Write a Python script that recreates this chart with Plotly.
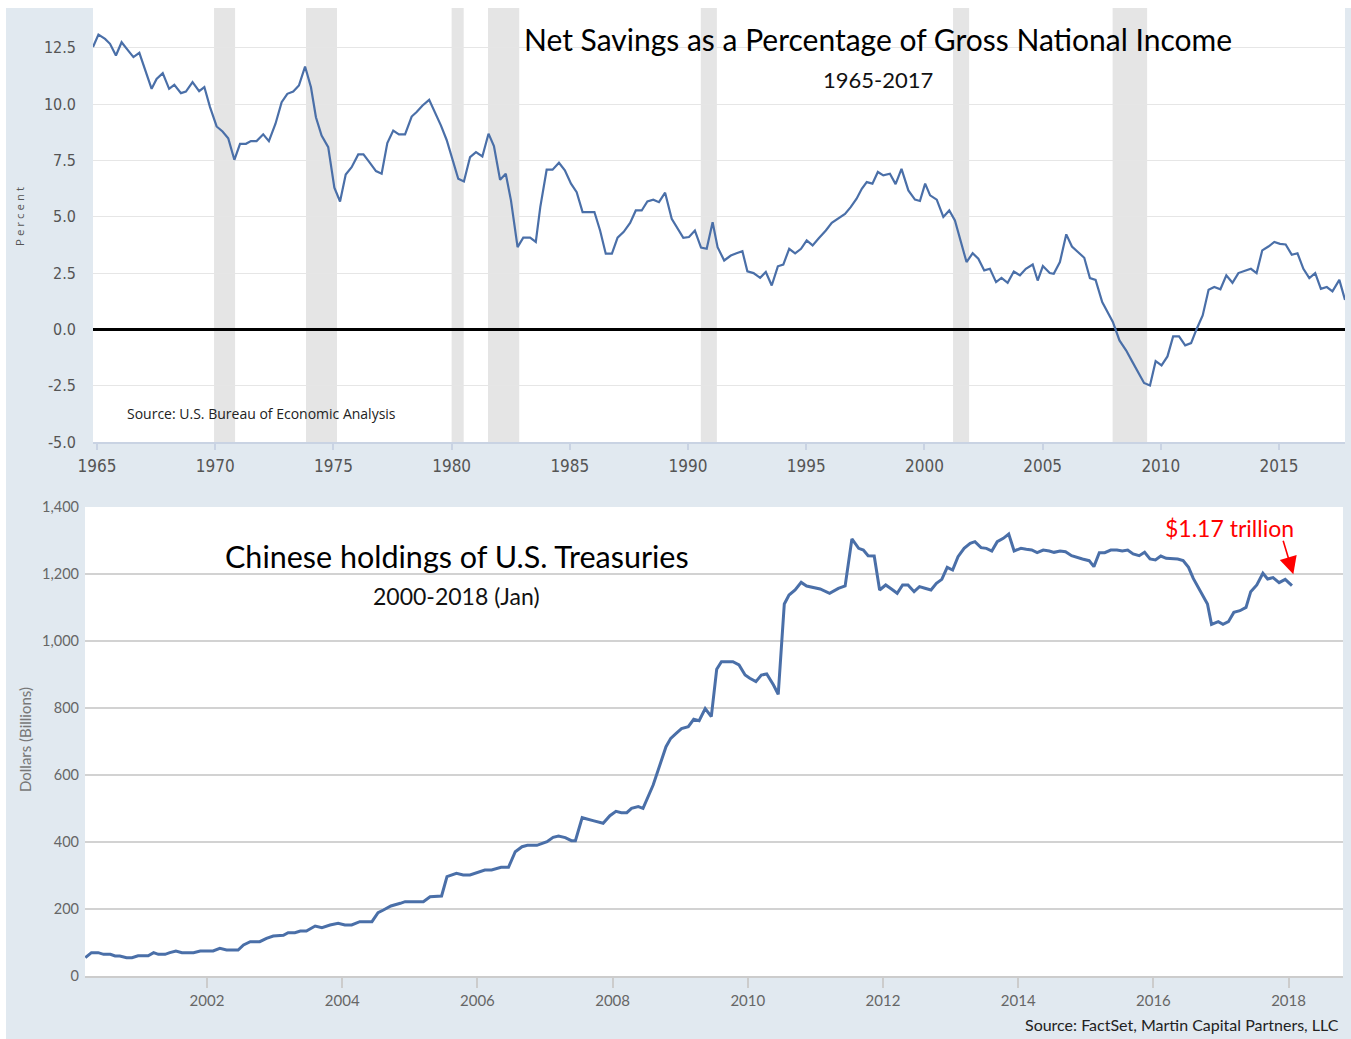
import plotly.graph_objects as go

# ---------------- data: Net savings as % of GNI (quarterly) ----------------
top_years = [1964.83, 1965.06, 1965.34, 1965.55, 1965.80, 1966.04, 1966.32, 1966.54, 1966.79, 1967.03,
             1967.31, 1967.52, 1967.78, 1968.05, 1968.27, 1968.55, 1968.76, 1969.04, 1969.32, 1969.54,
             1969.78, 1970.06, 1970.31, 1970.55, 1970.81, 1971.05, 1971.30, 1971.51, 1971.75, 1972.03,
             1972.27, 1972.55, 1972.81, 1973.05, 1973.30, 1973.54, 1973.80, 1974.05, 1974.26, 1974.50,
             1974.78, 1975.04, 1975.28, 1975.52, 1975.77, 1976.05, 1976.27, 1976.52, 1976.80, 1977.04,
             1977.28, 1977.53, 1977.77, 1978.03, 1978.31, 1978.52, 1978.77, 1979.05, 1979.29, 1979.55,
             1979.79, 1980.05, 1980.28, 1980.52, 1980.78, 1981.03, 1981.30, 1981.56, 1981.79, 1982.05,
             1982.29, 1982.51, 1982.79, 1983.03, 1983.32, 1983.56, 1983.75, 1984.02, 1984.27, 1984.54,
             1984.79, 1985.05, 1985.29, 1985.54, 1985.79, 1986.04, 1986.28, 1986.52, 1986.78, 1987.02,
             1987.28, 1987.55, 1987.79, 1988.04, 1988.28, 1988.53, 1988.77, 1989.03, 1989.31, 1989.55,
             1989.80, 1990.04, 1990.29, 1990.55, 1990.79, 1991.04, 1991.25, 1991.53, 1991.81, 1992.05,
             1992.30, 1992.51, 1992.77, 1993.05, 1993.29, 1993.54, 1993.80, 1994.03, 1994.28, 1994.53,
             1994.78, 1995.02, 1995.27, 1995.53, 1995.83, 1996.08, 1996.39, 1996.64, 1996.88, 1997.13,
             1997.35, 1997.56, 1997.80, 1998.03, 1998.26, 1998.54, 1998.78, 1999.03, 1999.32, 1999.60,
             1999.81, 2000.03, 2000.24, 2000.52, 2000.80, 2001.05, 2001.29, 2001.78, 2002.04, 2002.28,
             2002.53, 2002.77, 2003.03, 2003.26, 2003.52, 2003.78, 2004.04, 2004.29, 2004.58, 2004.79,
             2005.01, 2005.30, 2005.47, 2005.73, 2006.00, 2006.24, 2006.55, 2006.76, 2007.00, 2007.24,
             2007.52, 2007.75, 2007.97, 2008.25, 2008.53, 2008.78, 2009.04, 2009.29, 2009.54, 2009.78,
             2010.03, 2010.28, 2010.52, 2010.77, 2011.03, 2011.28, 2011.52, 2011.77, 2012.02, 2012.26,
             2012.52, 2012.77, 2013.03, 2013.28, 2013.53, 2013.81, 2014.05, 2014.29, 2014.55, 2014.80,
             2015.04, 2015.28, 2015.54, 2015.78, 2016.03, 2016.28, 2016.53, 2016.77, 2017.02, 2017.26,
             2017.55, 2017.79]
top_values = [12.54, 13.09, 12.90, 12.68, 12.16, 12.75, 12.38, 12.09, 12.28, 11.57,
              10.68, 11.12, 11.38, 10.68, 10.86, 10.49, 10.56, 10.98, 10.58, 10.76,
              9.87, 9.01, 8.79, 8.49, 7.53, 8.24, 8.24, 8.36, 8.36, 8.66,
              8.36, 9.13, 10.09, 10.46, 10.56, 10.83, 11.67, 10.75, 9.42, 8.61,
              8.09, 6.29, 5.68, 6.88, 7.20, 7.77, 7.77, 7.43, 7.03, 6.91,
              8.27, 8.83, 8.66, 8.66, 9.45, 9.65, 9.94, 10.19, 9.65, 9.05,
              8.41, 7.50, 6.69, 6.57, 7.65, 7.87, 7.68, 8.69, 8.14, 6.64,
              6.91, 5.73, 3.65, 4.07, 4.07, 3.88, 5.43, 7.09, 7.09, 7.40,
              7.06, 6.47, 6.09, 5.21, 5.21, 5.21, 4.39, 3.36, 3.36, 4.07,
              4.33, 4.73, 5.28, 5.28, 5.68, 5.76, 5.65, 6.07, 4.91, 4.50,
              4.07, 4.10, 4.39, 3.63, 3.58, 4.76, 3.65, 3.06, 3.28, 3.38,
              3.47, 2.58, 2.50, 2.29, 2.55, 1.95, 2.80, 2.88, 3.58, 3.38,
              3.58, 3.95, 3.73, 4.05, 4.39, 4.73, 4.95, 5.13, 5.43, 5.80,
              6.24, 6.54, 6.47, 6.99, 6.84, 6.91, 6.45, 7.13, 6.17, 5.76,
              5.70, 6.47, 5.95, 5.76, 4.99, 5.28, 4.84, 2.99, 3.38, 3.14,
              2.62, 2.69, 2.10, 2.29, 2.07, 2.57, 2.40, 2.69, 2.88, 2.17,
              2.81, 2.50, 2.47, 2.99, 4.22, 3.68, 3.38, 3.18, 2.28, 2.20,
              1.21, 0.78, 0.33, -0.49, -0.93, -1.41, -1.90, -2.38, -2.49, -1.41,
              -1.60, -1.20, -0.31, -0.31, -0.71, -0.61, 0.03, 0.62, 1.76, 1.88,
              1.78, 2.40, 2.07, 2.50, 2.59, 2.69, 2.50, 3.51, 3.68, 3.88,
              3.80, 3.77, 3.31, 3.38, 2.69, 2.28, 2.50, 1.80, 1.88, 1.69,
              2.20, 1.31]

# US recessions (decimal years)
rec_start = [1969.95, 1973.84, 1980.00, 1981.54, 1990.54, 2001.21, 2007.96]
rec_end = [1970.84, 1975.15, 1980.51, 1982.86, 1991.22, 2001.89, 2009.42]

top_xticks = [1965, 1970, 1975, 1980, 1985, 1990, 1995, 2000, 2005, 2010, 2015]
top_yticks = [-5.0, -2.5, 0.0, 2.5, 5.0, 7.5, 10.0, 12.5]
top_yticklabels = ['-5.0', '-2.5', '0.0', '2.5', '5.0', '7.5', '10.0', '12.5']

# ---------------- data: Chinese holdings of US Treasuries ($bn, monthly) ----------------
bot_years = [2000.20, 2000.29, 2000.39, 2000.47, 2000.57, 2000.64, 2000.71, 2000.81, 2000.89, 2000.98,
             2001.13, 2001.21, 2001.28, 2001.38, 2001.45, 2001.54, 2001.63, 2001.80, 2001.90, 2002.09,
             2002.19, 2002.29, 2002.46, 2002.54, 2002.64, 2002.78, 2002.88, 2002.98, 2003.13, 2003.20,
             2003.30, 2003.38, 2003.47, 2003.60, 2003.70, 2003.82, 2003.94, 2004.04, 2004.14, 2004.26,
             2004.44, 2004.53, 2004.61, 2004.72, 2004.86, 2004.93, 2005.20, 2005.30, 2005.47, 2005.55,
             2005.69, 2005.79, 2005.89, 2005.99, 2006.11, 2006.21, 2006.35, 2006.46, 2006.56, 2006.66,
             2006.74, 2006.88, 2007.03, 2007.12, 2007.20, 2007.30, 2007.39, 2007.45, 2007.55, 2007.71,
             2007.86, 2007.96, 2008.05, 2008.13, 2008.21, 2008.28, 2008.38, 2008.45, 2008.53, 2008.60,
             2008.79, 2008.86, 2008.94, 2009.02, 2009.12, 2009.20, 2009.28, 2009.37, 2009.46, 2009.54,
             2009.61, 2009.78, 2009.87, 2009.96, 2010.03, 2010.12, 2010.20, 2010.28, 2010.38, 2010.45,
             2010.54, 2010.61, 2010.70, 2010.79, 2010.87, 2011.07, 2011.21, 2011.34, 2011.44, 2011.54,
             2011.64, 2011.71, 2011.78, 2011.87, 2011.95, 2012.04, 2012.13, 2012.21, 2012.29, 2012.37,
             2012.46, 2012.54, 2012.62, 2012.71, 2012.79, 2012.87, 2012.95, 2013.03, 2013.11, 2013.20,
             2013.29, 2013.36, 2013.45, 2013.53, 2013.61, 2013.69, 2013.78, 2013.86, 2013.94, 2014.04,
             2014.12, 2014.20, 2014.28, 2014.37, 2014.46, 2014.53, 2014.62, 2014.70, 2014.79, 2014.87,
             2014.95, 2015.05, 2015.12, 2015.20, 2015.28, 2015.37, 2015.46, 2015.54, 2015.62, 2015.70,
             2015.79, 2015.87, 2015.95, 2016.03, 2016.11, 2016.19, 2016.28, 2016.36, 2016.44, 2016.52,
             2016.59, 2016.66, 2016.74, 2016.80, 2016.86, 2016.96, 2017.03, 2017.11, 2017.19, 2017.28,
             2017.37, 2017.44, 2017.53, 2017.62, 2017.69, 2017.77, 2017.86, 2017.95, 2018.05]
bot_values = [54.7, 69.7, 69.7, 64.7, 64.7, 59.7, 59.7, 54.7, 54.7, 60.6,
              60.6, 69.7, 64.7, 64.7, 69.7, 74.6, 69.7, 69.7, 74.6, 74.6,
              82.6, 77.6, 77.6, 92.5, 102.4, 102.4, 112.4, 119.4, 121.4, 129.4,
              129.4, 134.3, 134.3, 149.3, 144.3, 152.2, 157.2, 152.2, 152.2, 162.1,
              162.1, 189.0, 197.0, 209.0, 217.0, 222.0, 222.0, 236.7, 238.8, 296.4,
              306.5, 301.5, 301.5, 308.5, 316.4, 316.4, 324.4, 324.4, 371.1, 386.0,
              390.0, 390.0, 401.0, 414.0, 418.0, 413.0, 404.0, 404.0, 472.6, 463.7,
              455.8, 478.5, 491.5, 487.5, 487.5, 500.5, 505.5, 500.5, 537.3, 570.0,
              684.6, 709.5, 724.4, 738.3, 744.3, 766.2, 762.2, 798.0, 774.1, 915.5,
              938.3, 938.3, 928.4, 898.5, 888.6, 878.6, 898.5, 901.5, 868.7, 840.9,
              1110.4, 1137.3, 1152.2, 1175.0, 1164.2, 1155.2, 1142.3, 1157.2, 1164.2, 1304.5,
              1276.6, 1271.6, 1254.7, 1253.7, 1152.2, 1167.2, 1154.2, 1142.3, 1167.2, 1167.2,
              1147.3, 1162.2, 1157.3, 1152.2, 1172.1, 1184.0, 1219.8, 1211.9, 1251.6, 1276.6,
              1291.6, 1296.5, 1278.6, 1276.6, 1268.7, 1296.5, 1306.5, 1319.4, 1268.7, 1276.6,
              1273.6, 1271.6, 1263.7, 1271.6, 1268.7, 1264.7, 1268.7, 1266.7, 1254.7, 1248.8,
              1244.8, 1239.8, 1221.9, 1263.7, 1263.7, 1271.6, 1271.6, 1268.7, 1271.6, 1259.7,
              1254.7, 1264.7, 1244.8, 1241.8, 1253.7, 1246.8, 1244.8, 1244.8, 1239.8, 1219.8,
              1186.9, 1162.2, 1134.3, 1110.4, 1049.7, 1057.6, 1049.7, 1057.6, 1085.4, 1090.4,
              1100.4, 1147.3, 1167.2, 1202.1, 1185.1, 1189.1, 1174.1, 1184.0, 1165.2]

bot_xticks = [2002, 2004, 2006, 2008, 2010, 2012, 2014, 2016, 2018]
bot_yticks = [0, 200, 400, 600, 800, 1000, 1200, 1400]

# ---------------- figure ----------------
W, H = 1351, 1039


def fx(p):
    return p / W


def fy(p):
    return 1 - p / H


BG = '#E1E9F0'
LINE = '#4A6FA8'
TITLE_FONT = 'Lato'
NARROW = 'DejaVu Sans Condensed, Liberation Sans Narrow, Arial Narrow, sans-serif'

fig = go.Figure()
fig.add_trace(go.Scatter(x=top_years, y=top_values, mode='lines',
                         line=dict(color=LINE, width=2.2), xaxis='x', yaxis='y',
                         hoverinfo='skip', showlegend=False))
fig.add_trace(go.Scatter(x=bot_years, y=bot_values, mode='lines',
                         line=dict(color=LINE, width=3), xaxis='x2', yaxis='y2',
                         hoverinfo='skip', showlegend=False))

shapes = [
    dict(type='rect', xref='paper', yref='paper', x0=0, x1=1, y0=fy(8), y1=1,
         fillcolor='white', line=dict(width=0), layer='below'),
    dict(type='rect', xref='paper', yref='paper', x0=0, x1=fx(6), y0=0, y1=1,
         fillcolor='white', line=dict(width=0), layer='below'),
]
for s, e in zip(rec_start, rec_end):
    shapes.append(dict(type='rect', xref='x', yref='y domain', x0=s, x1=e, y0=0, y1=1,
                       fillcolor='#E5E5E5', line=dict(width=0), layer='below'))

annotations = [
    dict(text='Net Savings as a Percentage of Gross National Income', xref='paper', yref='paper',
         x=fx(878), y=fy(39), xanchor='center', yanchor='middle', showarrow=False,
         font=dict(family=TITLE_FONT, size=30, color='black')),
    dict(text='1965-2017', xref='paper', yref='paper',
         x=fx(878), y=fy(79), xanchor='center', yanchor='middle', showarrow=False,
         font=dict(family=TITLE_FONT, size=22, color='#111')),
    dict(text='Source: U.S. Bureau of Economic Analysis', xref='paper', yref='paper',
         x=fx(125), y=fy(413), xanchor='left', yanchor='middle', showarrow=False,
         font=dict(family='Open Sans', size=14, color='#222')),
    dict(text='P e r c e n t', xref='paper', yref='paper', textangle=-90,
         x=fx(19), y=fy(217), xanchor='center', yanchor='middle', showarrow=False,
         font=dict(family='Open Sans', size=11.5, color='#555')),
    dict(text='Chinese holdings of U.S. Treasuries', xref='paper', yref='paper',
         x=fx(457), y=fy(556), xanchor='center', yanchor='middle', showarrow=False,
         font=dict(family=TITLE_FONT, size=30.5, color='black')),
    dict(text='2000-2018 (Jan)', xref='paper', yref='paper',
         x=fx(457), y=fy(596), xanchor='center', yanchor='middle', showarrow=False,
         font=dict(family=TITLE_FONT, size=23, color='#111')),
    dict(text='Dollars (Billions)', xref='paper', yref='paper', textangle=-90,
         x=fx(25), y=fy(740), xanchor='center', yanchor='middle', showarrow=False,
         font=dict(family=TITLE_FONT, size=15, color='#777')),
    dict(text='Source: FactSet, Martin Capital Partners, LLC', xref='paper', yref='paper',
         x=fx(1341), y=fy(1024), xanchor='right', yanchor='middle', showarrow=False,
         font=dict(family=TITLE_FONT, size=16, color='#222')),
    dict(text='$1.17 trillion', xref='x2', yref='y2', x=2017.13, y=1337,
         xanchor='center', yanchor='middle', showarrow=False,
         font=dict(family=TITLE_FONT, size=23, color='#FF0000')),
    dict(text='', xref='x2', yref='y2', x=2018.07, y=1199, ax=-10.6, ay=-35,
         showarrow=True, arrowhead=2, arrowsize=2.2, arrowwidth=1.6, arrowcolor='#FF0000'),
]

fig.update_layout(
    width=W, height=H, autosize=False,
    margin=dict(l=0, r=0, t=0, b=0, pad=0, autoexpand=False),
    paper_bgcolor=BG, plot_bgcolor='white',
    showlegend=False,
    shapes=shapes, annotations=annotations,
    xaxis=dict(domain=[fx(93), fx(1345)], range=[1964.83, 2017.79], anchor='y',
               tickmode='array', tickvals=top_xticks, ticktext=[str(t) for t in top_xticks],
               showgrid=False, zeroline=False, showline=True, linecolor='#C9D3E3', linewidth=1.5,
               ticks='outside', ticklen=6, tickcolor='#C9D3E3', tickwidth=1.5,
               ticklabelstandoff=2,
               tickfont=dict(family=NARROW, size=17, color='#555')),
    yaxis=dict(domain=[fy(442), fy(8)], range=[-5, 14.27], anchor='x',
               tickmode='array', tickvals=top_yticks, ticktext=top_yticklabels,
               showgrid=True, gridcolor='#E6E6E6', gridwidth=1,
               zeroline=True, zerolinecolor='black', zerolinewidth=3,
               showline=False, ticks='', ticklabelstandoff=16,
               tickfont=dict(family=NARROW, size=16, color='#555')),
    xaxis2=dict(domain=[fx(85), fx(1343)], range=[2000.195, 2018.805], anchor='y2',
                tickmode='array', tickvals=bot_xticks, ticktext=[str(t) for t in bot_xticks],
                showgrid=False, zeroline=False, showline=True, linecolor='#CCCCCC', linewidth=1.5,
                ticks='outside', ticklen=10, tickcolor='#CCCCCC', tickwidth=1.5,
                tickfont=dict(family=TITLE_FONT, size=15, color='#666')),
    yaxis2=dict(domain=[fy(976), fy(507)], range=[0, 1400], anchor='x2',
                tickmode='array', tickvals=bot_yticks, tickformat=',',
                showgrid=True, gridcolor='#D2D2D2', gridwidth=1.5,
                zeroline=False, showline=False, ticks='', ticklabelstandoff=5,
                tickfont=dict(family=TITLE_FONT, size=14.5, color='#666')),
)

fig.write_html('out.html')
